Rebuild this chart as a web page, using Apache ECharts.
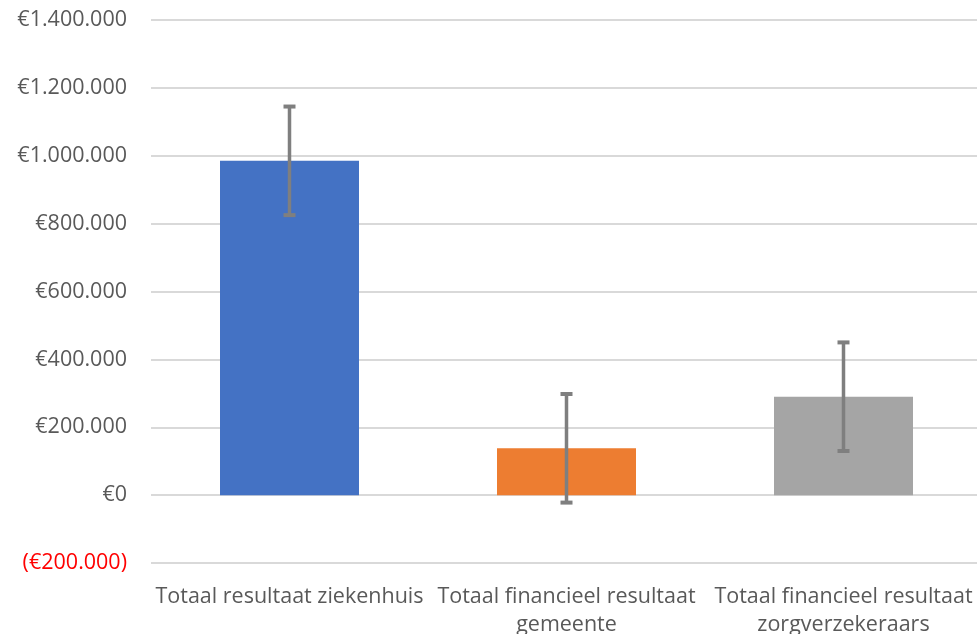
<!DOCTYPE html>
<html>
<head>
<meta charset="utf-8">
<script src="https://cdn.jsdelivr.net/npm/echarts@6/dist/echarts.min.js"></script>
<style>html,body{margin:0;padding:0;background:#fff}#c{width:977px;height:634px}</style>
</head>
<body>
<div id="c"></div>
<script>
const categories = ['Totaal resultaat ziekenhuis', 'Totaal financieel resultaat\ngemeente', 'Totaal financieel resultaat\nzorgverzekeraars'];
const values = [985000, 138000, 290000];
const errors = [160000, 160000, 160000];
const colors = ['#4472C4', '#ED7D31', '#A5A5A5'];
const yTicks = { min: -200000, max: 1400000, interval: 200000 };

function fmt(v) {
  const s = Math.abs(v).toString().replace(/\B(?=(\d{3})+(?!\d))/g, '.');
  return v < 0 ? '{neg|(€' + s + ')}' : '€' + s;
}

const chart = echarts.init(document.getElementById('c'));
const font = 'Open Sans';
chart.setOption({
  animation: false,
  grid: { left: 151, width: 831, top: 20, bottom: 71, containLabel: false, outerBoundsMode: 'none' },
  xAxis: {
    type: 'category',
    data: categories,
    axisLine: { show: false },
    axisTick: { show: false },
    axisLabel: { color: '#595959', fontFamily: font, fontSize: 21.5, lineHeight: 28, margin: 20, interval: 0 }
  },
  yAxis: {
    type: 'value',
    min: yTicks.min, max: yTicks.max, interval: yTicks.interval,
    axisLine: { show: false },
    axisTick: { show: false },
    splitLine: { lineStyle: { color: '#D9D9D9', width: 2 } },
    axisLabel: {
      color: '#595959', fontFamily: font, fontSize: 21.5, margin: 24,
      formatter: fmt,
      rich: { neg: { color: '#FF0000', fontFamily: font, fontSize: 21.5 } }
    }
  },
  series: [
    {
      type: 'bar',
      barWidth: 139,
      data: values.map((v, i) => ({ value: v, itemStyle: { color: colors[i] } }))
    },
    {
      type: 'custom',
      z: 10,
      data: values.map((v, i) => [i, v - errors[i], v + errors[i]]),
      renderItem: function (params, api) {
        const lo = api.coord([api.value(0), api.value(1)]);
        const hi = api.coord([api.value(0), api.value(2)]);
        const x = lo[0];
        const cap = 6;
        const st = { stroke: '#7F7F7F', lineWidth: 3.5 };
        const cs = { stroke: '#7F7F7F', lineWidth: 4 };
        return {
          type: 'group',
          children: [
            { type: 'line', shape: { x1: x, y1: hi[1], x2: x, y2: lo[1] }, style: st },
            { type: 'line', shape: { x1: x - cap, y1: hi[1], x2: x + cap, y2: hi[1] }, style: cs },
            { type: 'line', shape: { x1: x - cap, y1: lo[1], x2: x + cap, y2: lo[1] }, style: cs }
          ]
        };
      }
    }
  ]
});
</script>
</body>
</html>
